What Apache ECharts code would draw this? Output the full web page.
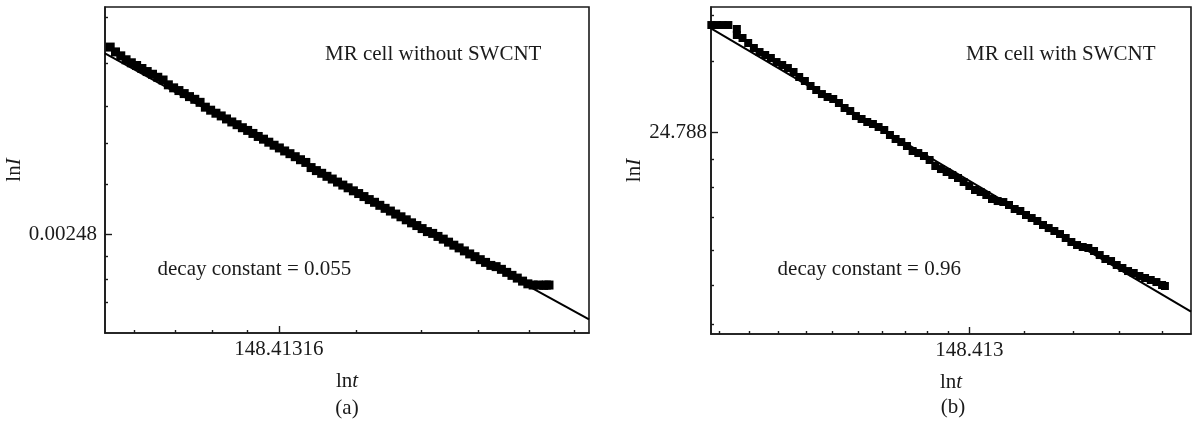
<!DOCTYPE html>
<html><head><meta charset="utf-8">
<script src="https://cdn.jsdelivr.net/npm/echarts@6/dist/echarts.min.js"></script>
<style>html,body{margin:0;padding:0;background:#fff}#c{width:1195px;height:426px}</style>
</head><body><div id="c"></div>
<script>
// ---------- Panel (a): MR cell without SWCNT (ln t, ln I) ----------
const lnT_a = [4.617,4.629,4.641,4.653,4.665,4.677,4.689,4.701,4.713,4.725,
  4.737,4.749,4.761,4.773,4.785,4.797,4.809,4.821,4.833,4.845,
  4.857,4.869,4.881,4.893,4.905,4.917,4.929,4.941,4.953,4.965,
  4.977,4.989,5.001,5.013,5.025,5.037,5.049,5.061,5.073,5.085,
  5.097,5.109,5.121,5.133,5.145,5.157,5.169,5.181,5.193,5.205,
  5.217,5.229,5.241,5.253,5.265,5.277,5.289,5.301,5.313,5.325,
  5.337,5.349,5.361,5.373,5.385,5.397,5.409,5.421,5.433,5.445,
  5.457,5.469,5.481,5.493,5.505,5.517,5.529,5.541,5.553,5.565,
  5.577,5.589,5.601,5.607,5.613];
const lnI_a = [-5.381,-5.397,-5.410,-5.423,-5.433,-5.442,-5.452,-5.462,-5.471,-5.481,
  -5.490,-5.506,-5.516,-5.525,-5.535,-5.545,-5.554,-5.564,-5.580,-5.590,
  -5.600,-5.609,-5.619,-5.629,-5.638,-5.648,-5.657,-5.667,-5.677,-5.686,
  -5.696,-5.706,-5.715,-5.725,-5.734,-5.744,-5.754,-5.763,-5.780,-5.790,
  -5.799,-5.809,-5.818,-5.828,-5.838,-5.847,-5.857,-5.866,-5.876,-5.886,
  -5.895,-5.905,-5.915,-5.924,-5.934,-5.943,-5.953,-5.963,-5.972,-5.982,
  -5.992,-5.998,-6.008,-6.017,-6.027,-6.037,-6.046,-6.056,-6.066,-6.075,
  -6.085,-6.094,-6.104,-6.108,-6.117,-6.127,-6.137,-6.146,-6.156,-6.165,
  -6.169,-6.169,-6.170,-6.169,-6.169];
const fitLnT_a = [4.6052, 5.7038];
const fitLnI_a = [-5.4017, -6.2826];

// ---------- Panel (b): MR cell with SWCNT ----------
const lnT_b = [4.545,4.555,4.565,4.575,4.590,4.590,
  4.60,4.61,4.62,4.63,4.64,4.65,4.66,4.67,4.68,4.69,
  4.70,4.71,4.72,4.73,4.74,4.75,4.76,4.77,4.78,4.79,
  4.80,4.81,4.82,4.83,4.84,4.85,4.86,4.87,4.88,4.89,
  4.90,4.91,4.92,4.93,4.94,4.95,4.96,4.97,4.98,4.99,
  5.00,5.01,5.02,5.03,5.04,5.05,5.06,5.07,5.08,5.09,
  5.10,5.11,5.12,5.13,5.14,5.15,5.16,5.17,5.18,5.19,
  5.20,5.21,5.22,5.23,5.24,5.25,5.26,5.27,5.28,5.29,
  5.30,5.31,5.32,5.33,5.34,5.345];
const lnI_b = [3.4377,3.4377,3.4377,3.4377,3.4293,3.4166,
  3.4102,3.3996,3.3890,3.3805,3.3742,3.3678,3.3593,3.3530,3.3466,3.3382,
  3.3276,3.3191,3.3085,3.3000,3.2915,3.2852,3.2810,3.2725,3.2619,3.2555,
  3.2449,3.2386,3.2322,3.2280,3.2216,3.2153,3.2047,3.1962,3.1898,3.1814,
  3.1708,3.1665,3.1602,3.1517,3.1390,3.1326,3.1263,3.1199,3.1136,3.1051,
  3.0966,3.0882,3.0839,3.0776,3.0691,3.0648,3.0627,3.0564,3.0479,3.0437,
  3.0352,3.0288,3.0225,3.0140,3.0076,3.0013,2.9949,2.9865,2.9780,2.9716,
  2.9674,2.9653,2.9589,2.9504,2.9420,2.9377,2.9293,2.9229,2.9165,2.9123,
  2.9060,2.9017,2.8975,2.8932,2.8869,2.8848];
const fitLnT_b = [4.5444, 5.3910];
const fitLnI_b = [3.4307, 2.8307];

// ---------- Axes: ranges, tick labels ----------
const xRangeA = [4.6052, 5.7038];
const yRangeA = [-6.3278, -5.2483];
const xRangeB = [4.5444, 5.3910];
const yRangeB = [2.7831, 3.4759];

const xMajorA = [5];            const xLabelsA = ['148.41316'];
const yMajorA = [-6];           const yLabelsA = ['0.00248'];
const xMajorB = [5];            const xLabelsB = ['148.413'];
const yMajorB = [3.2104];       const yLabelsB = ['24.788'];

// minor tick positions (t values for x, ln I for y)
const xMinorTA = [106.8,117.2,127.6,138.0,176.7,205.0,233.4,261.7,290.0];
const yMinorA = [-5.2815,-5.4338,-5.5762,-5.6987,-5.8344,-6.0728,-6.149,-6.2252];
const xMinorTB = [95.41,100.71,106.01,111.31,116.61,121.91,127.21,132.51,137.81,143.11,163.41,178.41,193.41,208.41];
const yMinorB = [3.4574,3.3615,3.1538,3.0939,3.0295,2.9610,2.8869,2.8043];

const texts = {
  titleA: 'MR cell without SWCNT', decayA: 'decay constant = 0.055', capA: '(a)',
  titleB: 'MR cell with SWCNT', decayB: 'decay constant = 0.96', capB: '(b)'
};

// ---------- Rendering ----------
const FONT = '"Liberation Serif", "Times New Roman", serif';
const ink = '#1a1a1a';
const pairs = (xs, ys) => xs.map((x, i) => [x, ys[i]]);
const lblFor = (vals, labels) => v => {
  let k = 0, best = Infinity;
  vals.forEach((u, i) => { const d = Math.abs(u - v); if (d < best) { best = d; k = i; } });
  return labels[k];
};
const rich = () => ({
  rich: {
    n: { fontFamily: FONT, fontSize: 21, color: ink },
    i: { fontFamily: FONT, fontSize: 21, color: ink, fontStyle: 'italic' }
  }
});

const xAxes = [], yAxes = [];
function addAxes(gi, xr, yr, xMinor, xMajor, xLabels, yMinor, yMajor, yLabels, yGap, yMargin) {
  const tickLine = { color: ink, width: 1.4 };
  xAxes.push({
    gridIndex: gi, type: 'value', min: xr[0], max: xr[1], position: 'bottom',
    axisLine: { show: true, onZero: false, lineStyle: { color: ink, width: 1.6 } },
    axisTick: { show: true, inside: true, length: 3, customValues: xMinor, lineStyle: tickLine },
    axisLabel: { show: false }, splitLine: { show: false }
  });
  xAxes.push({
    gridIndex: gi, type: 'value', min: xr[0], max: xr[1], position: 'bottom',
    axisLine: { show: false, onZero: false },
    axisTick: { show: true, inside: true, length: 7, customValues: xMajor, lineStyle: tickLine },
    axisLabel: { show: true, customValues: xMajor, formatter: lblFor(xMajor, xLabels),
      fontFamily: FONT, fontSize: 21, color: ink, margin: 6 },
    splitLine: { show: false },
    name: '{n|ln}{i|t}', nameLocation: 'middle', nameGap: 38, nameTextStyle: rich()
  });
  yAxes.push({
    gridIndex: gi, type: 'value', min: yr[0], max: yr[1], position: 'left',
    axisLine: { show: true, onZero: false, lineStyle: { color: ink, width: 1.6 } },
    axisTick: { show: true, inside: true, length: 3, customValues: yMinor, lineStyle: tickLine },
    axisLabel: { show: false }, splitLine: { show: false }
  });
  yAxes.push({
    gridIndex: gi, type: 'value', min: yr[0], max: yr[1], position: 'left',
    axisLine: { show: false, onZero: false },
    axisTick: { show: true, inside: true, length: 7, customValues: yMajor, lineStyle: tickLine },
    axisLabel: { show: true, customValues: yMajor, formatter: lblFor(yMajor, yLabels),
      fontFamily: FONT, fontSize: 21, color: ink, margin: yMargin },
    splitLine: { show: false },
    name: '{n|ln}{i|I}', nameLocation: 'middle', nameGap: yGap, nameRotate: 90, nameTextStyle: rich()
  });
}
addAxes(0, xRangeA, yRangeA, xMinorTA.map(Math.log), xMajorA, xLabelsA, yMinorA, yMajorA, yLabelsA, 74, 8);
addAxes(1, xRangeB, yRangeB, xMinorTB.map(Math.log), xMajorB, xLabelsB, yMinorB, yMajorB, yLabelsB, 66, 4);

const scatterStyle = { color: '#000', opacity: 1 };
const option = {
  backgroundColor: '#fff',
  animation: false,
  grid: [
    { left: 105, top: 7, width: 484, height: 326, show: true, borderColor: ink, borderWidth: 1.6, backgroundColor: 'transparent' },
    { left: 711, top: 7, width: 480, height: 327, show: true, borderColor: ink, borderWidth: 1.6, backgroundColor: 'transparent' }
  ],
  xAxis: xAxes,
  yAxis: yAxes,
  series: [
    { type: 'scatter', xAxisIndex: 0, yAxisIndex: 0, symbol: 'rect', symbolSize: 9,
      itemStyle: scatterStyle, data: pairs(lnT_a, lnI_a), silent: true },
    { type: 'line', xAxisIndex: 0, yAxisIndex: 0, symbol: 'none', data: pairs(fitLnT_a, fitLnI_a),
      lineStyle: { color: '#000', width: 2 }, silent: true, z: 3 },
    { type: 'scatter', xAxisIndex: 2, yAxisIndex: 2, symbol: 'rect', symbolSize: 8,
      itemStyle: scatterStyle, data: pairs(lnT_b, lnI_b), silent: true },
    { type: 'line', xAxisIndex: 2, yAxisIndex: 2, symbol: 'none', data: pairs(fitLnT_b, fitLnI_b),
      lineStyle: { color: '#000', width: 2 }, silent: true, z: 3 }
  ],
  graphic: [
    { type: 'text', x: 325, y: 44, style: { text: texts.titleA, font: '21px ' + FONT, fill: ink } },
    { type: 'text', x: 157.5, y: 259, style: { text: texts.decayA, font: '21px ' + FONT, fill: ink } },
    { type: 'text', x: 347, y: 408, style: { text: texts.capA, font: '21px ' + FONT, fill: ink, textAlign: 'center', textVerticalAlign: 'middle' } },
    { type: 'text', x: 966, y: 44, style: { text: texts.titleB, font: '21px ' + FONT, fill: ink } },
    { type: 'text', x: 777.6, y: 259, style: { text: texts.decayB, font: '21px ' + FONT, fill: ink } },
    { type: 'text', x: 953, y: 407, style: { text: texts.capB, font: '21px ' + FONT, fill: ink, textAlign: 'center', textVerticalAlign: 'middle' } }
  ]
};
const chart = echarts.init(document.getElementById('c'), null, { renderer: 'canvas' });
chart.setOption(option);
</script>
</body></html>
